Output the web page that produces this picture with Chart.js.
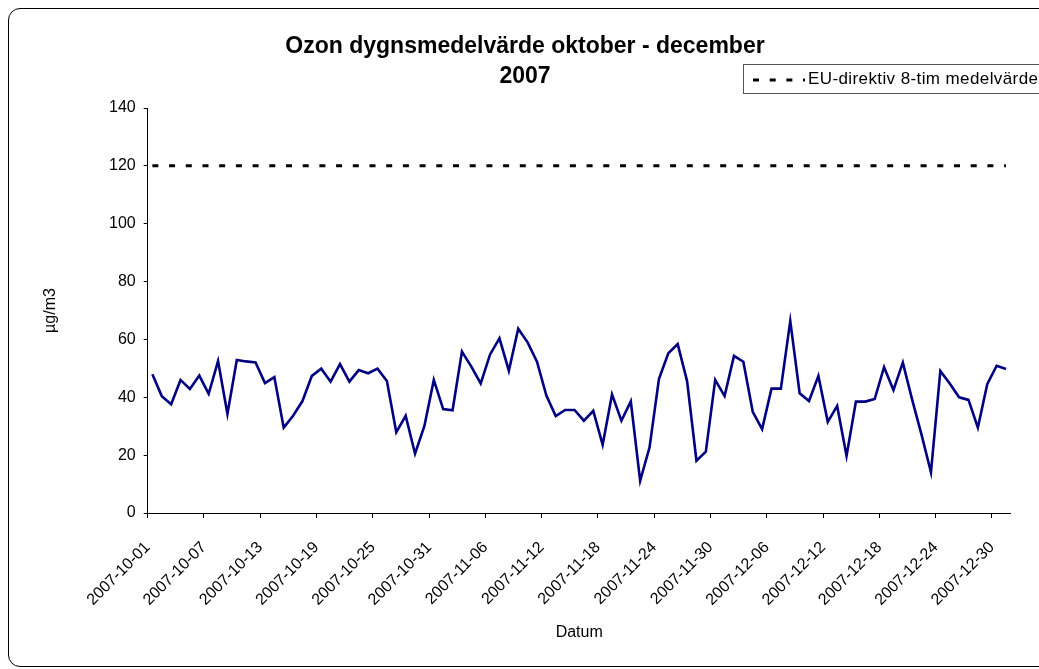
<!DOCTYPE html>
<html>
<head>
<meta charset="utf-8">
<script src="https://cdn.jsdelivr.net/npm/chart.js@4.4.0/dist/chart.umd.min.js"></script>
<style>
  html, body { margin: 0; padding: 0; width: 1039px; height: 669px; overflow: hidden; background: #fff; }
  body { position: relative; font-family: Arial, "Liberation Sans", sans-serif; color: #000; }
  #ram { position: absolute; left: 8px; top: 8px; width: 1100px; height: 659px; border: 1.5px solid #000; border-radius: 12px; box-sizing: border-box; }
  #diagram { position: absolute; left: 0; top: 0; }
  #rubrik { position: absolute; left: 225px; width: 600px; top: 30px; text-align: center; font-weight: bold; font-size: 23px; line-height: 30px; }
  #forklaring { position: absolute; left: 743px; top: 64px; width: 400px; height: 30px; border: 1px solid #555; background: #fff; box-sizing: border-box; }
  #forklaring svg { position: absolute; left: 0; top: 0; }
  #forklaring span { position: absolute; left: 64px; top: 3px; font-size: 17px; letter-spacing: 0.4px; line-height: 22px; white-space: nowrap; }
</style>
</head>
<body>
<div id="ram"></div>
<canvas id="diagram" width="1039" height="669"></canvas>
<div id="rubrik">Ozon dygnsmedelvärde oktober - december<br>2007</div>
<div id="forklaring">
  <svg width="70" height="30"><line x1="9" y1="15" x2="61" y2="15" stroke="#000" stroke-width="3" stroke-dasharray="6 10.7"/></svg>
  <span>EU-direktiv 8-tim medelvärde</span>
</div>
<script>
// datum (kategorier)
const datum = [
  "2007-10-01","2007-10-02","2007-10-03","2007-10-04","2007-10-05","2007-10-06","2007-10-07","2007-10-08","2007-10-09","2007-10-10",
  "2007-10-11","2007-10-12","2007-10-13","2007-10-14","2007-10-15","2007-10-16","2007-10-17","2007-10-18","2007-10-19","2007-10-20",
  "2007-10-21","2007-10-22","2007-10-23","2007-10-24","2007-10-25","2007-10-26","2007-10-27","2007-10-28","2007-10-29","2007-10-30",
  "2007-10-31",
  "2007-11-01","2007-11-02","2007-11-03","2007-11-04","2007-11-05","2007-11-06","2007-11-07","2007-11-08","2007-11-09","2007-11-10",
  "2007-11-11","2007-11-12","2007-11-13","2007-11-14","2007-11-15","2007-11-16","2007-11-17","2007-11-18","2007-11-19","2007-11-20",
  "2007-11-21","2007-11-22","2007-11-23","2007-11-24","2007-11-25","2007-11-26","2007-11-27","2007-11-28","2007-11-29","2007-11-30",
  "2007-12-01","2007-12-02","2007-12-03","2007-12-04","2007-12-05","2007-12-06","2007-12-07","2007-12-08","2007-12-09","2007-12-10",
  "2007-12-11","2007-12-12","2007-12-13","2007-12-14","2007-12-15","2007-12-16","2007-12-17","2007-12-18","2007-12-19","2007-12-20",
  "2007-12-21","2007-12-22","2007-12-23","2007-12-24","2007-12-25","2007-12-26","2007-12-27","2007-12-28","2007-12-29","2007-12-30",
  "2007-12-31"
];

// ozon dygnsmedelvärde, µg/m3
const ozon = [
  48.0, 40.4, 37.6, 46.0, 42.9, 47.5, 41.2, 52.5, 34.2, 52.9,
  52.4, 52.0, 44.9, 47.0, 29.5, 33.6, 38.7, 47.4, 49.9, 45.4,
  51.5, 45.4, 49.4, 48.3, 49.9, 45.6, 27.9, 33.6, 20.5, 30.1,
  46.0, 35.9, 35.5, 55.8, 50.6, 44.8, 54.8, 60.4, 49.2, 63.7,
  59.0, 52.3, 40.6, 33.5, 35.6, 35.6, 31.9, 35.3, 23.6, 41.0,
  31.9, 38.6, 11.1, 22.7, 46.3, 55.2, 58.4, 45.6, 18.1, 21.2,
  46.0, 40.4, 54.3, 52.3, 35.0, 29.0, 43.0, 43.0, 66.4, 41.4,
  38.7, 47.4, 31.5, 37.0, 19.7, 38.5, 38.5, 39.4, 50.4, 42.5,
  52.0, 39.1, 27.0, 14.1, 49.1, 44.8, 40.0, 39.1, 29.5, 44.5,
  50.9, 49.8
];

const euGrans = 120;           // EU-direktiv 8-tim medelvärde
const xSteg = 6;               // etikett var sjätte dag
const yMin = 0, yMax = 140, ySteg = 20;

const typsnitt = 'Arial, "Liberation Sans", sans-serif';
Chart.defaults.font.family = typsnitt;
Chart.defaults.color = "#000";

// punkter mitt i varje dag (kategori)
const ozonPunkter = ozon.map((v, i) => ({ x: i + 0.5, y: v }));
const euPunkter = [
  { x: 0.5, y: euGrans },
  { x: datum.length - 0.5, y: euGrans }
];

const ctx = document.getElementById("diagram").getContext("2d");

new Chart(ctx, {
  type: "line",
  data: {
    datasets: [
      {
        label: "Ozon",
        data: ozonPunkter,
        borderColor: "#000080",
        borderWidth: 2.6,
        pointRadius: 0,
        tension: 0
      },
      {
        label: "EU-direktiv 8-tim medelvärde",
        data: euPunkter,
        borderColor: "#000",
        borderWidth: 3,
        borderDash: [6, 10.7],
        pointRadius: 0
      }
    ]
  },
  options: {
    responsive: false,
    animation: false,
    layout: { padding: { left: 20, right: 28.3, top: 108, bottom: 0 } },
    plugins: {
      legend: { display: false },
      tooltip: { enabled: false },
      title: { display: false }
    },
    scales: {
      x: {
        type: "linear",
        min: 0,
        max: datum.length,
        afterBuildTicks: (s) => {
          s.ticks = s.ticks.filter(t => t.value % xSteg === 0 && t.value < datum.length);
        },
        afterFit: (s) => { s.height = 156; },
        ticks: {
          stepSize: xSteg,
          includeBounds: false,
          autoSkip: false,
          minRotation: 45,
          maxRotation: 45,
          padding: 20,
          font: { size: 16 },
          callback: (v) => datum[v]
        },
        grid: { drawOnChartArea: false, tickLength: 5, color: "#000" },
        border: { color: "#000", width: 1 },
        title: {
          display: true,
          text: "Datum",
          font: { size: 16 },
          padding: { top: 0, bottom: 27 }
        }
      },
      y: {
        min: yMin,
        max: yMax,
        afterFit: (s) => { s.width = 127.7; },
        ticks: { stepSize: ySteg, padding: 8, font: { size: 16 } },
        grid: { drawOnChartArea: false, tickLength: 4, color: "#000" },
        border: { color: "#000", width: 1 },
        title: {
          display: true,
          text: "µg/m3",
          font: { size: 16 },
          padding: { top: 21, bottom: 0 }
        }
      }
    }
  }
});
</script>
</body>
</html>
